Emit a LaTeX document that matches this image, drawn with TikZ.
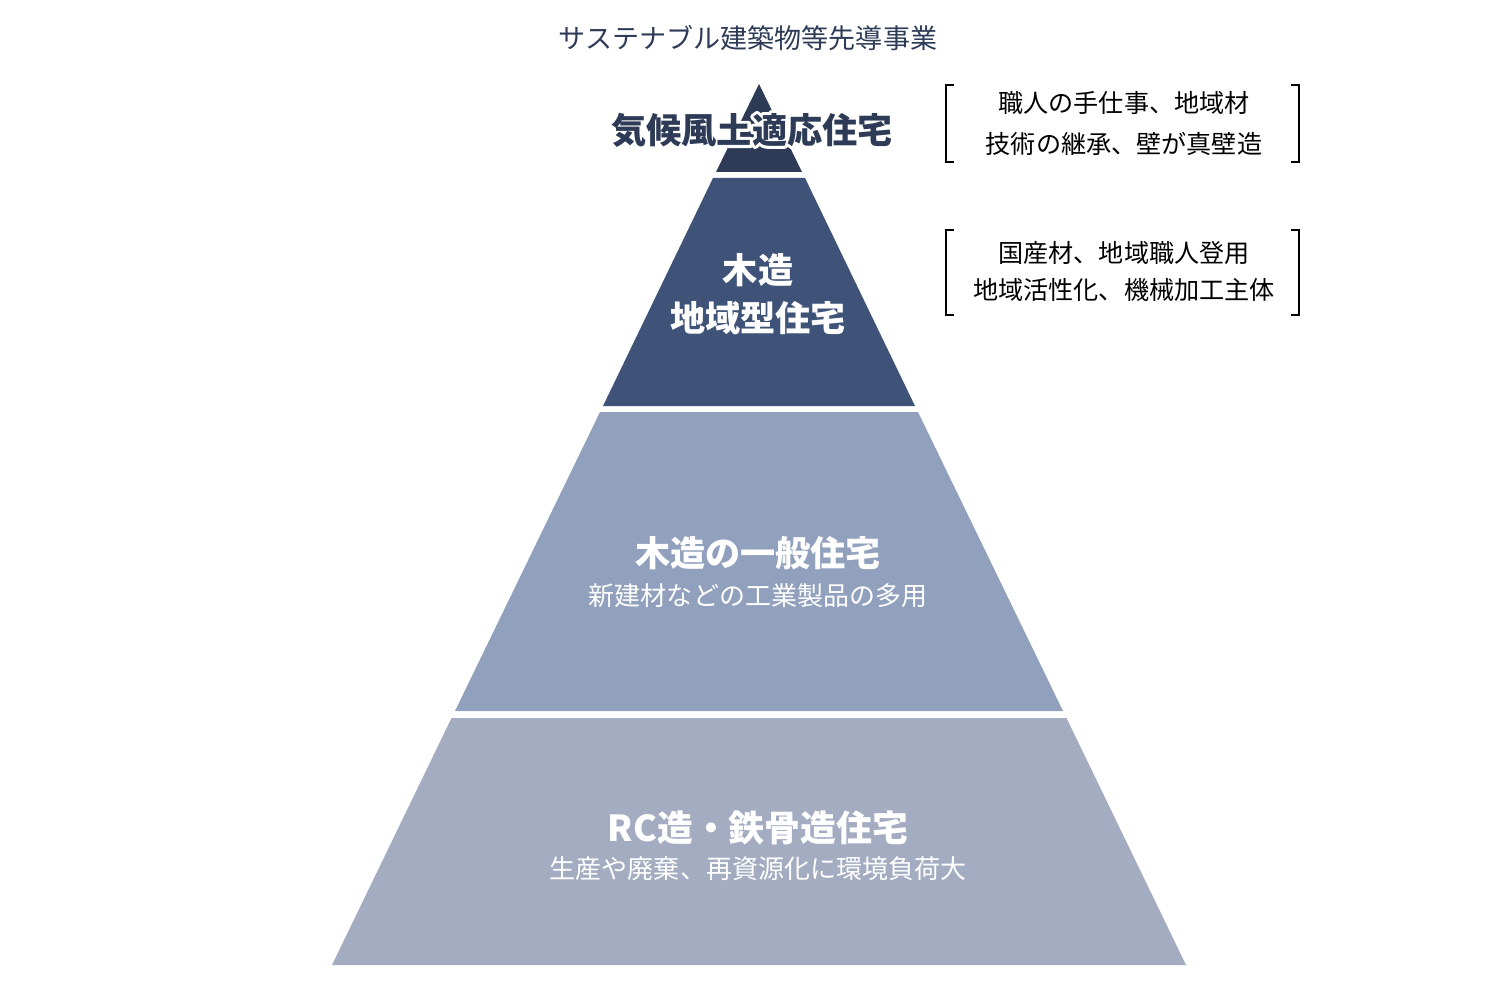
\documentclass[tikz,border=0pt]{standalone}
\usepackage{fontspec}
\setmainfont{Noto Sans CJK JP}
\newfontfamily\cjk{Noto Sans CJK JP}
\usetikzlibrary{positioning}
\definecolor{navy}{HTML}{2D3B57}
\definecolor{tiertwo}{HTML}{3F5378}
\definecolor{tierthree}{HTML}{91A0BC}
\definecolor{tierfour}{HTML}{A4ACC1}
% text with a white stroked halo underneath
\newcommand\haloed[1]{%
  \makebox[0pt][l]{\special{pdf:literal direct q 1 1 1 RG 3.4 w 1 j 1 J 2 Tr}#1\special{pdf:literal direct 0 Tr Q}}#1}

\begin{document}
\begin{tikzpicture}[x = 0.02cm, y = -0.02cm,
  big/.style = {font = \cjk\bfseries\fontsize{20}{24}\selectfont, text = white, inner sep = 0pt},
  sub/.style = {font = \cjk\fontsize{14.8}{17}\selectfont, text = white, inner sep = 0pt},
  note/.style = {font = \cjk\fontsize{14.3}{17}\selectfont, text = black, inner sep = 0pt},
  brace/.style = {draw = black, line width = 0.6pt}]
\useasboundingbox (0, 0) rectangle (1500, 1000);

% pyramid tiers
\fill[navy] (759, 84) -- (802, 172) -- (716, 172) -- cycle;
\fill[tiertwo] (713, 178) -- (805, 178) -- (915, 406) -- (603, 406) -- cycle;
\fill[tierthree] (600, 412) -- (918, 412) -- (1063, 711) -- (455, 711) -- cycle;
\fill[tierfour] (451.5, 718) -- (1066.5, 718) -- (1186, 965) -- (332, 965) -- cycle;

\node[font = \cjk\fontsize{15.4}{18}\selectfont, text = navy, inner sep = 0pt] (title) at (748, 38) {サステナブル建築物等先導事業};

\node[big, text = navy] (top) at (752, 130) {\haloed{気候風土適応住宅}};

\node[big] (woodA) at (758, 270) {木造};
\node[big] (woodB) at (758, 318) {地域型住宅};
\node[big] (general) at (758, 553) {木造の一般住宅};
\node[sub] (generalsub) at (758, 596) {新建材などの工業製品の多用};
\node[big, font = \cjk\bfseries\fontsize{20.4}{24}\selectfont] (rc) at (758, 828) {RC造・鉄骨造住宅};
\node[sub] (rcsub) at (758, 869) {生産や廃棄、再資源化に環境負荷大};

% notes in brackets
\node[note] (noteA) at (1124, 103) {職人の手仕事、地域材};
\node[note] (noteB) at (1124, 144) {技術の継承、壁が真壁造};
\draw[brace] (954, 85) -- (946, 85) -- (946, 162) -- (954, 162);
\draw[brace] (1291, 85) -- (1299, 85) -- (1299, 162) -- (1291, 162);

\node[note] (noteC) at (1124, 253) {国産材、地域職人登用};
\node[note] (noteD) at (1124, 290) {地域活性化、機械加工主体};
\draw[brace] (954, 230) -- (946, 230) -- (946, 315) -- (954, 315);
\draw[brace] (1291, 230) -- (1299, 230) -- (1299, 315) -- (1291, 315);
\end{tikzpicture}
\end{document}
